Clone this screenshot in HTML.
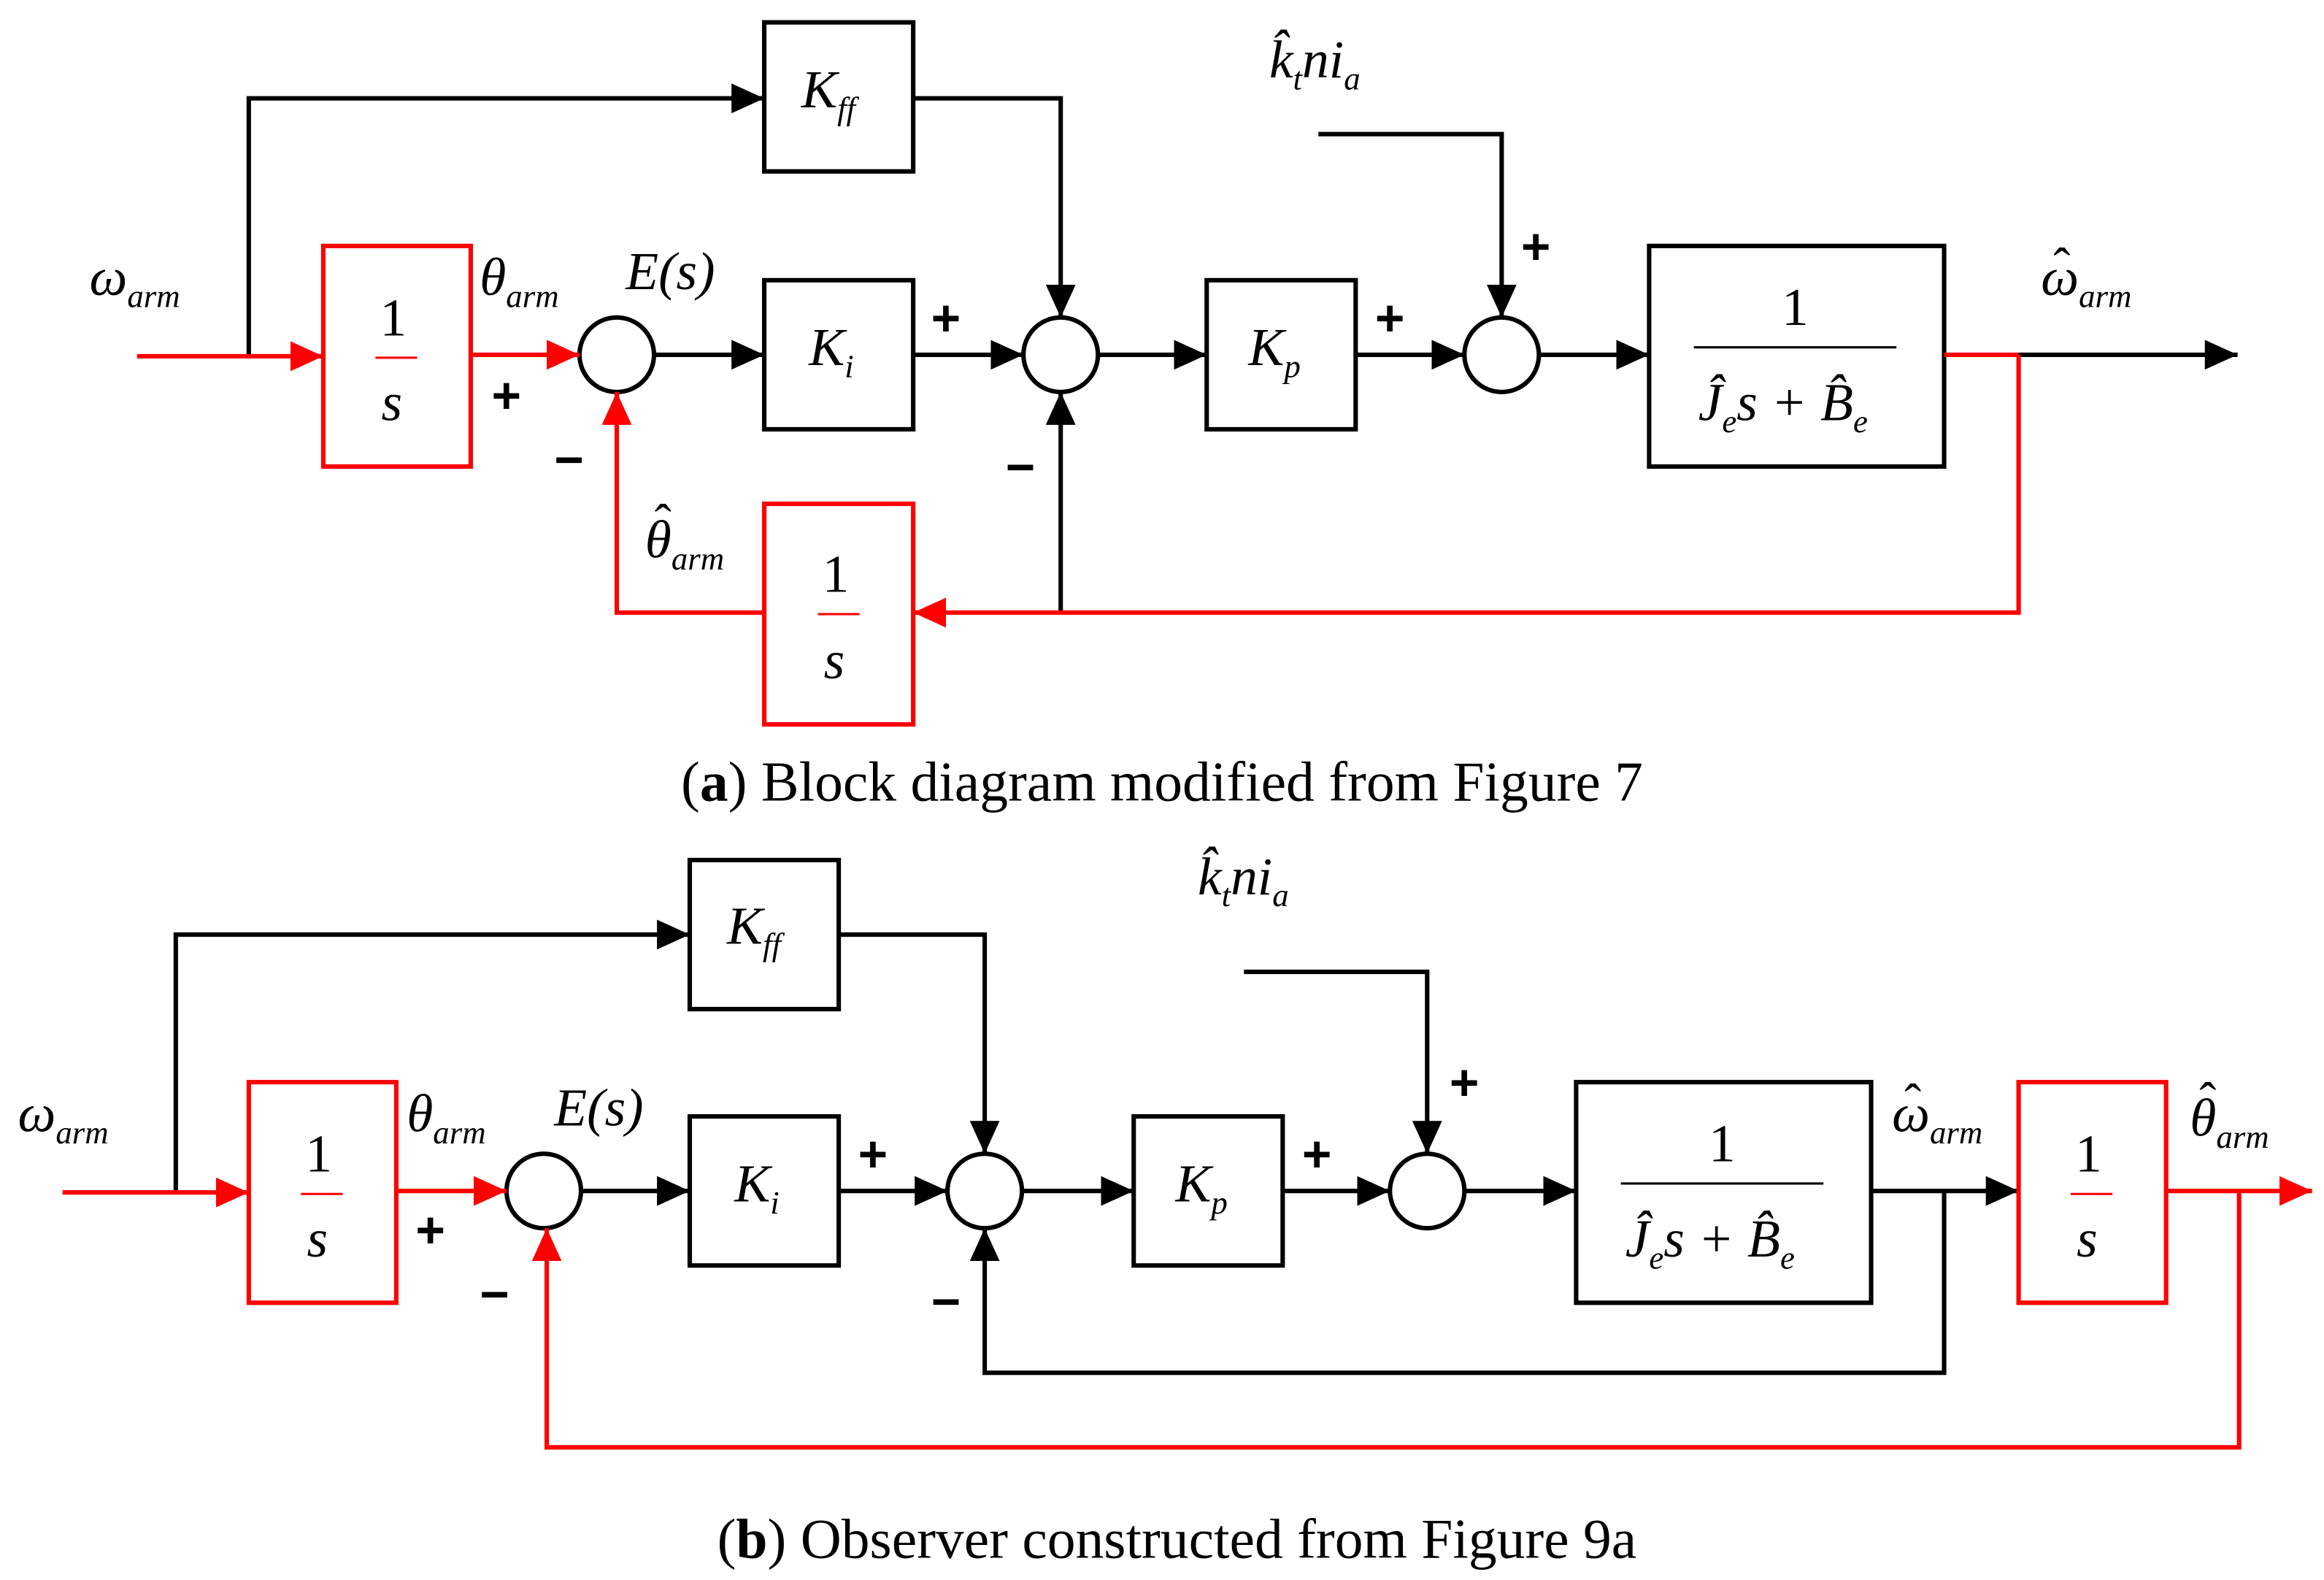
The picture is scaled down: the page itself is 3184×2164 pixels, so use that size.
<!DOCTYPE html>
<html><head><meta charset="utf-8"><style>
html,body{margin:0;padding:0;background:#fff;}
svg{display:block;}
text{font-family:"Liberation Serif",serif;}
.v{font-style:italic;font-size:36px;}
.s{font-style:italic;font-size:22px;}
.h{font-size:34px;}
.p{font-family:"Liberation Sans",sans-serif;font-size:34px;font-weight:bold;}
.cap{font-size:38px;}
</style></head><body>
<svg width="3184" height="2164" viewBox="0 0 1560 1060" preserveAspectRatio="none" xmlns="http://www.w3.org/2000/svg">
<defs>
<marker id="ab" markerUnits="userSpaceOnUse" markerWidth="24" markerHeight="20" refX="22" refY="10" orient="auto"><path d="M0,0 L22,10 L0,20 Z" fill="#000"/></marker>
<marker id="ar" markerUnits="userSpaceOnUse" markerWidth="24" markerHeight="20" refX="22" refY="10" orient="auto"><path d="M0,0 L22,10 L0,20 Z" fill="#f00"/></marker>
</defs>
<g fill="none" stroke-width="3">
<!-- ===== (a) ===== -->
<g stroke="#000">
<polyline points="167,239 167,66 513,66" marker-end="url(#ab)"/>
<rect x="513" y="15" width="100" height="100"/>
<polyline points="613,66 712,66 712,213" marker-end="url(#ab)"/>
<line x1="439" y1="238" x2="513" y2="238" marker-end="url(#ab)"/>
<rect x="513" y="188" width="100" height="100"/>
<line x1="613" y1="238" x2="687" y2="238" marker-end="url(#ab)"/>
<circle cx="712" cy="238" r="25"/>
<line x1="737" y1="238" x2="810" y2="238" marker-end="url(#ab)"/>
<rect x="810" y="188" width="100" height="100"/>
<line x1="910" y1="238" x2="983" y2="238" marker-end="url(#ab)"/>
<circle cx="1008" cy="238" r="25"/>
<polyline points="885,90 1008,90 1008,213" marker-end="url(#ab)"/>
<line x1="1033" y1="238" x2="1107" y2="238" marker-end="url(#ab)"/>
<rect x="1107" y="165" width="198" height="148"/>
<line x1="1137" y1="233" x2="1273" y2="233" stroke-width="1.5"/>
<line x1="1355" y1="238" x2="1502" y2="238" marker-end="url(#ab)"/>
<line x1="712" y1="411" x2="712" y2="263" marker-end="url(#ab)"/>
<circle cx="414" cy="238" r="25"/>
</g>
<g stroke="#f00">
<line x1="92" y1="239" x2="217" y2="239" marker-end="url(#ar)"/>
<rect x="217" y="165" width="99" height="148"/>
<line x1="316" y1="238" x2="389" y2="238" marker-end="url(#ar)"/>
<line x1="1305" y1="238" x2="1355" y2="238"/>
<polyline points="1355,238 1355,411 613,411" marker-end="url(#ar)"/>
<rect x="513" y="338" width="100" height="148"/>
<polyline points="513,411 414,411 414,263" marker-end="url(#ar)"/>
<line x1="252" y1="240" x2="280" y2="240" stroke-width="1.5"/>
<line x1="549" y1="412" x2="577" y2="412" stroke-width="1.5"/>
</g>
<!-- ===== (b) ===== -->
<g stroke="#000">
<polyline points="118,800 118,627 463,627" marker-end="url(#ab)"/>
<rect x="463" y="577" width="100" height="100"/>
<polyline points="563,627 661,627 661,774" marker-end="url(#ab)"/>
<circle cx="365" cy="799" r="25"/>
<line x1="390" y1="799" x2="463" y2="799" marker-end="url(#ab)"/>
<rect x="463" y="749" width="100" height="100"/>
<line x1="563" y1="799" x2="636" y2="799" marker-end="url(#ab)"/>
<circle cx="661" cy="799" r="25"/>
<line x1="686" y1="799" x2="761" y2="799" marker-end="url(#ab)"/>
<rect x="761" y="749" width="100" height="100"/>
<line x1="861" y1="799" x2="933" y2="799" marker-end="url(#ab)"/>
<circle cx="958" cy="799" r="25"/>
<polyline points="835,652 958,652 958,774" marker-end="url(#ab)"/>
<line x1="983" y1="799" x2="1058" y2="799" marker-end="url(#ab)"/>
<rect x="1058" y="726" width="198" height="148"/>
<line x1="1088" y1="794" x2="1224" y2="794" stroke-width="1.5"/>
<line x1="1256" y1="799" x2="1355" y2="799" marker-end="url(#ab)"/>
<polyline points="1305,799 1305,921 661,921 661,824" marker-end="url(#ab)"/>
</g>
<g stroke="#f00">
<line x1="42" y1="800" x2="167" y2="800" marker-end="url(#ar)"/>
<rect x="167" y="726" width="99" height="148"/>
<line x1="266" y1="799" x2="340" y2="799" marker-end="url(#ar)"/>
<rect x="1355" y="726" width="99" height="148"/>
<line x1="1454" y1="799" x2="1552" y2="799" marker-end="url(#ar)"/>
<polyline points="1503,799 1503,971 367,971 367,824" marker-end="url(#ar)"/>
<line x1="202" y1="801" x2="230" y2="801" stroke-width="1.5"/>
<line x1="1390" y1="801" x2="1418" y2="801" stroke-width="1.5"/>
</g>
</g>

<!-- ===== text (a) ===== -->
<text x="60" y="198" class="v">ω<tspan class="s" dy="8">arm</tspan></text>
<text x="322" y="198" class="v">θ<tspan class="s" dy="8">arm</tspan></text>
<text x="420" y="194" class="v">E(s)</text>
<text x="255" y="225" class="v" style="font-style:normal">1</text>
<text x="256" y="282" class="v">s</text>
<text x="538" y="72" class="v">K<tspan class="s" dy="8">ff</tspan></text>
<text x="543" y="245" class="v">K<tspan class="s" dy="8">i</tspan></text>
<text x="838" y="245" class="v">K<tspan class="s" dy="8">p</tspan></text>
<text x="852" y="52" class="v">k̂<tspan class="s" dy="8">t</tspan><tspan dy="-8">ni</tspan><tspan class="s" dy="8">a</tspan></text>
<text x="1196" y="218" class="v" style="font-style:normal">1</text>
<text x="1140" y="282" class="v">Ĵ<tspan class="s" dy="8">e</tspan><tspan dy="-8">s + B̂</tspan><tspan class="s" dy="8">e</tspan></text>
<text x="1370" y="198" class="v">ω<tspan class="s" dy="8">arm</tspan></text>
<text x="1384" y="190" class="h" text-anchor="middle">ˆ</text>
<text x="433" y="374" class="v">θ<tspan class="s" dy="8">arm</tspan></text>
<text x="445" y="362" class="h" text-anchor="middle">ˆ</text>
<text x="552" y="397" class="v" style="font-style:normal">1</text>
<text x="553" y="455" class="v">s</text>
<text x="330" y="277" class="p">+</text>
<text x="625" y="225" class="p">+</text>
<text x="923" y="225" class="p">+</text>
<text x="1021" y="177" class="p">+</text>
<text x="372" y="320" class="p">−</text>
<text x="675" y="325" class="p">−</text>
<text x="780" y="537" class="cap" text-anchor="middle">(<tspan font-weight="bold">a</tspan>) Block diagram modified from Figure 7</text>

<!-- ===== text (b) ===== -->
<text x="12" y="759" class="v">ω<tspan class="s" dy="8">arm</tspan></text>
<text x="273" y="759" class="v">θ<tspan class="s" dy="8">arm</tspan></text>
<text x="372" y="755" class="v">E(s)</text>
<text x="205" y="786" class="v" style="font-style:normal">1</text>
<text x="206" y="843" class="v">s</text>
<text x="488" y="633" class="v">K<tspan class="s" dy="8">ff</tspan></text>
<text x="493" y="806" class="v">K<tspan class="s" dy="8">i</tspan></text>
<text x="789" y="806" class="v">K<tspan class="s" dy="8">p</tspan></text>
<text x="804" y="600" class="v">k̂<tspan class="s" dy="8">t</tspan><tspan dy="-8">ni</tspan><tspan class="s" dy="8">a</tspan></text>
<text x="1147" y="779" class="v" style="font-style:normal">1</text>
<text x="1091" y="843" class="v">Ĵ<tspan class="s" dy="8">e</tspan><tspan dy="-8">s + B̂</tspan><tspan class="s" dy="8">e</tspan></text>
<text x="1270" y="759" class="v">ω<tspan class="s" dy="8">arm</tspan></text>
<text x="1284" y="751" class="h" text-anchor="middle">ˆ</text>
<text x="1393" y="786" class="v" style="font-style:normal">1</text>
<text x="1394" y="843" class="v">s</text>
<text x="1470" y="762" class="v">θ<tspan class="s" dy="8">arm</tspan></text>
<text x="1482" y="750" class="h" text-anchor="middle">ˆ</text>
<text x="279" y="837" class="p">+</text>
<text x="576" y="786" class="p">+</text>
<text x="874" y="786" class="p">+</text>
<text x="973" y="738" class="p">+</text>
<text x="322" y="880" class="p">−</text>
<text x="625" y="885" class="p">−</text>
<text x="790" y="1045" class="cap" text-anchor="middle">(<tspan font-weight="bold">b</tspan>) Observer constructed from Figure 9a</text>
</svg>
</body></html>
